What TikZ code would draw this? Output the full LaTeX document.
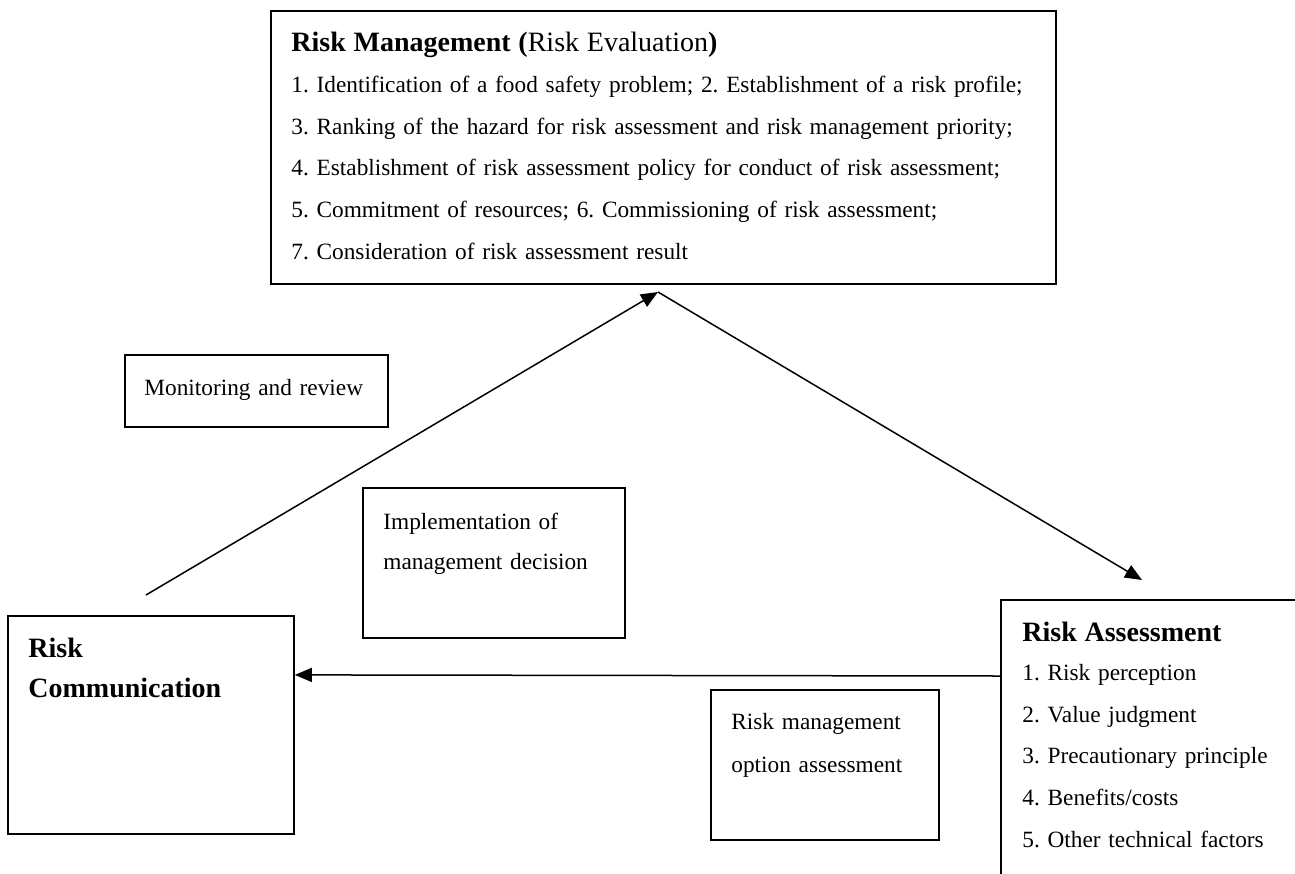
\documentclass[tikz,border=0pt]{standalone}
\usepackage{fontspec}
\setmainfont{Liberation Serif}
\usetikzlibrary{arrows.meta}

\tikzset{
  box/.style={draw, line width=0.9pt, rectangle, inner sep=0pt, anchor=north west},
  txt/.style={anchor=base west, inner sep=0pt, align=left, text width=#1},
  txt/.default=420pt,
  body/.style={font=\fontsize{11.65}{20.8}\selectfont\frenchspacing},
  head/.style={font=\fontsize{14}{20.8}\selectfont\frenchspacing},
  link/.style={line width=0.75pt, -{Triangle[length=8.5pt,width=7pt]}}
}

\begin{document}
\begin{tikzpicture}[x=0.5pt, y=-0.5pt]
\useasboundingbox (0,0) rectangle (1295,873);
\clip (0,0) rectangle (1295,873);

% Boxes
\node[box, minimum width=392.5pt, minimum height=136.5pt] (rm) at (270,10) {};
\node[box, minimum width=143pt, minimum height=109pt] (rc) at (7,615) {};
\node[box, minimum width=131.5pt, minimum height=36pt] (mon) at (124,354) {};
\node[box, minimum width=131pt, minimum height=75pt] (impl) at (362,487) {};
\node[box, minimum width=114pt, minimum height=75pt] (opt) at (710,689) {};
\node[box, minimum width=170pt, minimum height=160pt] (ra) at (1000,599) {};

% Texts
\node[txt, body] (rmt) at (291,51) {{\fontsize{14}{20.8}\selectfont\textbf{Risk Management (}Risk Evaluation\textbf{)}}\\
1. Identification of a food safety problem; 2. Establishment of a risk profile;\\
3. Ranking of the hazard for risk assessment and risk management priority;\\
4. Establishment of risk assessment policy for conduct of risk assessment;\\
5. Commitment of resources; 6. Commissioning of risk assessment;\\
7. Consideration of risk assessment result};

\node[txt=130pt, head] (rct) at (28,657) {\textbf{Risk}\\[-0.8pt]\textbf{Communication}};

\node[txt=130pt, body] (mont) at (144,395) {Monitoring and review};

\node[txt=130pt, body] (implt) at (383,529) {Implementation of\\[-0.8pt]management decision};

\node[txt=110pt, body] (optt) at (731,729) {Risk management\\[0.7pt]option assessment};

\node[txt=140pt, body] (rat) at (1022,641) {{\fontsize{14}{20.8}\selectfont\textbf{Risk Assessment}}\\[-1pt]
1. Risk perception\\
2. Value judgment\\
3. Precautionary principle\\
4. Benefits/costs\\
5. Other technical factors};

% Connectors
\coordinate (apex) at (658,292);
\coordinate (rcTop) at (146,595);
\coordinate (raTop) at (1142,580);
\draw[link] (rcTop) -- (apex);
\draw[link] (apex) -- (raTop);
\draw[link] ([yshift=-38.5pt]ra.north west) -- ([yshift=25pt]rc.east);
\end{tikzpicture}
\end{document}
